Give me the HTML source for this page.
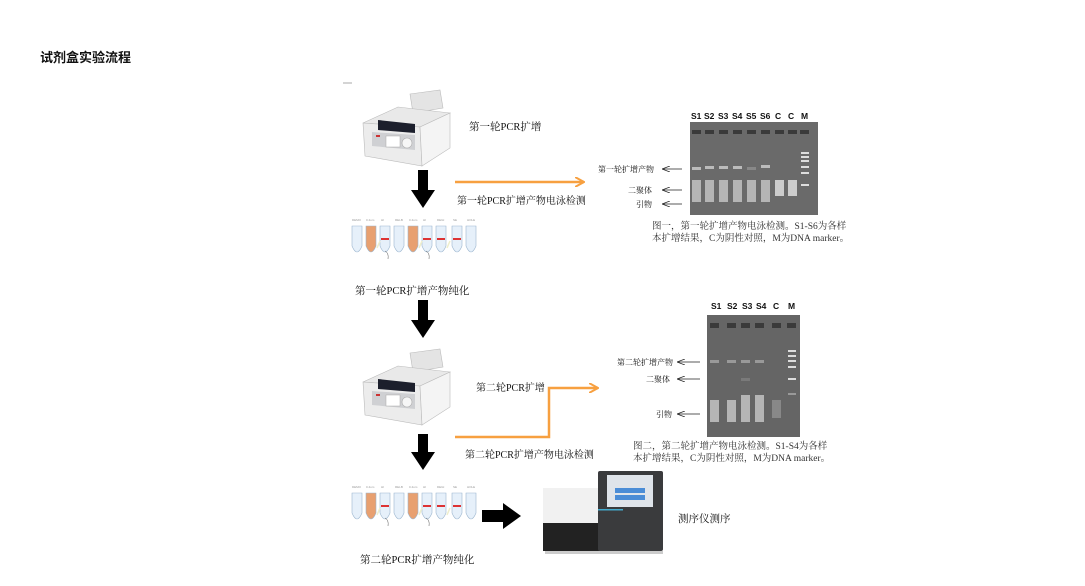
<!DOCTYPE html>
<html><head><meta charset="utf-8"><style>
html,body{margin:0;padding:0;background:#fff;width:1085px;height:586px;overflow:hidden;position:relative;font-family:"Liberation Sans","Noto Sans CJK SC",sans-serif;}
.t{position:absolute;white-space:nowrap;color:#111;}
.s{font-family:"Liberation Serif","Noto Serif CJK SC",serif;}
.g{position:absolute;font-size:8.5px;font-weight:bold;color:#111;}
</style></head><body>
<div class="t" style="left:40px;top:47px;font-size:13px;font-weight:bold;">试剂盒实验流程</div>
<svg width="1085" height="586" style="position:absolute;left:0;top:0">
<defs>
<g id="pcr">
<polygon points="50,8 80,4 83,22 53,27" fill="#e4e4e4" stroke="#bbb" stroke-width="0.6"/>
<polygon points="3,37 38,21 90,27 60,41" fill="#e9e9e9" stroke="#bbb" stroke-width="0.6"/>
<polygon points="3,37 60,41 62,80 5,70" fill="#ececec" stroke="#bbb" stroke-width="0.6"/>
<polygon points="60,41 90,27 90,62 62,80" fill="#f4f4f4" stroke="#bbb" stroke-width="0.6"/>
<polygon points="18,34 55,38 55,47 18,44" fill="#1c1f2c"/>
<polygon points="12,46 55,49 55,64 12,60" fill="#cfd0d3"/>
<rect x="26" y="50" width="14" height="11" fill="#fff" stroke="#aaa" stroke-width="0.5"/>
<circle cx="47" cy="57" r="5" fill="#f6f6f6" stroke="#aaa" stroke-width="0.6"/>
<rect x="16" y="49" width="4" height="2" fill="#c33"/>
</g>
<g id="tubes">
<g fill="#e6f0fa" stroke="#9cb6cf" stroke-width="0.6">
<path d="M5,13 h10 v20 q-5,12 -10,0z"/><path d="M19,13 h10 v20 q-5,12 -10,0z" fill="#e8a070"/>
<path d="M33,13 h10 v20 q-5,12 -10,0z"/><path d="M47,13 h10 v20 q-5,12 -10,0z"/>
<path d="M61,13 h10 v20 q-5,12 -10,0z" fill="#e8a070"/><path d="M75,13 h10 v20 q-5,12 -10,0z"/>
<path d="M89,13 h10 v20 q-5,12 -10,0z"/><path d="M105,13 h10 v20 q-5,12 -10,0z"/>
<path d="M119,13 h10 v20 q-5,12 -10,0z"/>
</g>
<g fill="#d33"><rect x="34" y="25" width="8" height="2"/><rect x="76" y="25" width="8" height="2"/><rect x="90" y="25" width="8" height="2"/><rect x="106" y="25" width="8" height="2"/></g>
<g stroke="#eec" stroke-width="1.5"><line x1="30" y1="35" x2="33" y2="28"/><line x1="72" y1="35" x2="75" y2="28"/><line x1="100" y1="35" x2="103" y2="28"/></g>
<g fill="#999" font-size="3"><text x="5" y="8">DEMO</text><text x="19" y="8">0.4um</text><text x="34" y="8">HI</text><text x="48" y="8">RELB</text><text x="62" y="8">0.4um</text><text x="76" y="8">HI</text><text x="90" y="8">DEGI</text><text x="106" y="8">SE</text><text x="120" y="8">HOLE</text></g>
<path d="M38,38 q4,2 3,8 M79,38 q4,2 3,8" stroke="#555" stroke-width="0.5" fill="none"/>
</g>
<marker id="oa" markerWidth="10" markerHeight="10" refX="9" refY="5" orient="auto" markerUnits="userSpaceOnUse"><path d="M0,0 L9,5 L0,10" fill="none" stroke="#f7a040" stroke-width="2"/></marker>
<marker id="ka" markerWidth="8" markerHeight="6" refX="0" refY="3" orient="auto" markerUnits="userSpaceOnUse"><path d="M8,0 L0,3 L8,6" fill="none" stroke="#222" stroke-width="0.8"/></marker>
</defs>
<line x1="343" y1="83" x2="352" y2="83" stroke="#aaa"/>
<use href="#pcr" x="360" y="86"/>
<use href="#pcr" x="360" y="345"/>
<g fill="#000">
<polygon points="418,170 428,170 428,190 435,190 423,208 411,190 418,190"/>
<polygon points="418,300 428,300 428,320 435,320 423,338 411,320 418,320"/>
<polygon points="418,434 428,434 428,452 435,452 423,470 411,452 418,452"/>
<polygon points="482,510 503,510 503,503 521,516 503,529 503,522 482,522"/>
</g>
<line x1="455" y1="182" x2="584" y2="182" stroke="#f7a040" stroke-width="2.5" marker-end="url(#oa)"/>
<polyline points="455,437 549,437 549,388 598,388" fill="none" stroke="#f7a040" stroke-width="2.5" marker-end="url(#oa)"/>
<use href="#tubes" x="347" y="213"/>
<use href="#tubes" x="347" y="480"/>
<!-- gel 1 -->
<rect x="690" y="122" width="128" height="93" fill="#6a6a6a"/>
<g fill="#3a3a3a"><rect x="692" y="130" width="9" height="4"/><rect x="705" y="130" width="9" height="4"/><rect x="719" y="130" width="9" height="4"/><rect x="733" y="130" width="9" height="4"/><rect x="747" y="130" width="9" height="4"/><rect x="761" y="130" width="9" height="4"/><rect x="775" y="130" width="9" height="4"/><rect x="788" y="130" width="9" height="4"/><rect x="800" y="130" width="9" height="4"/></g>
<g fill="#bbb"><rect x="692" y="167" width="9" height="3"/><rect x="705" y="166" width="9" height="3"/><rect x="719" y="166" width="9" height="3"/><rect x="733" y="166" width="9" height="3"/><rect x="747" y="167" width="9" height="3" fill="#888"/><rect x="761" y="165" width="9" height="3"/></g>
<g fill="#b5b5b5"><rect x="692" y="180" width="9" height="22"/><rect x="705" y="180" width="9" height="22"/><rect x="719" y="180" width="9" height="22"/><rect x="733" y="180" width="9" height="22"/><rect x="747" y="180" width="9" height="22"/><rect x="761" y="180" width="9" height="22"/><rect x="775" y="180" width="9" height="16" fill="#ccc"/><rect x="788" y="180" width="9" height="16" fill="#ccc"/></g>
<g fill="#ddd"><rect x="801" y="152" width="8" height="2"/><rect x="801" y="156" width="8" height="2"/><rect x="801" y="160" width="8" height="2"/><rect x="801" y="166" width="8" height="2"/><rect x="801" y="172" width="8" height="2"/><rect x="801" y="184" width="8" height="2"/></g>
<g stroke="#222" stroke-width="0.8"><line x1="662" y1="169" x2="682" y2="169" marker-start="url(#ka)"/><line x1="662" y1="190" x2="682" y2="190" marker-start="url(#ka)"/><line x1="662" y1="204" x2="682" y2="204" marker-start="url(#ka)"/></g>
<!-- gel 2 -->
<rect x="707" y="315" width="93" height="122" fill="#656565"/>
<g fill="#3a3a3a"><rect x="710" y="323" width="9" height="5"/><rect x="727" y="323" width="9" height="5"/><rect x="741" y="323" width="9" height="5"/><rect x="755" y="323" width="9" height="5"/><rect x="772" y="323" width="9" height="5"/><rect x="787" y="323" width="9" height="5"/></g>
<g fill="#999"><rect x="710" y="360" width="9" height="3"/><rect x="727" y="360" width="9" height="3"/><rect x="741" y="360" width="9" height="3"/><rect x="755" y="360" width="9" height="3"/><rect x="741" y="378" width="9" height="3" fill="#7a7a7a"/></g>
<g fill="#b5b5b5"><rect x="710" y="400" width="9" height="22"/><rect x="727" y="400" width="9" height="22"/><rect x="741" y="395" width="9" height="27"/><rect x="755" y="395" width="9" height="27"/><rect x="772" y="400" width="9" height="18" fill="#888"/></g>
<g fill="#ddd"><rect x="788" y="350" width="8" height="2"/><rect x="788" y="355" width="8" height="2"/><rect x="788" y="360" width="8" height="2"/><rect x="788" y="366" width="8" height="2"/><rect x="788" y="378" width="8" height="2"/><rect x="788" y="393" width="8" height="2" fill="#999"/></g>
<g stroke="#222" stroke-width="0.8"><line x1="677" y1="362" x2="700" y2="362" marker-start="url(#ka)"/><line x1="677" y1="379" x2="700" y2="379" marker-start="url(#ka)"/><line x1="677" y1="414" x2="700" y2="414" marker-start="url(#ka)"/></g>
<!-- sequencer -->
<rect x="543" y="488" width="60" height="63" fill="#f1f1f1"/>
<rect x="543" y="523" width="57" height="28" fill="#222"/>
<rect x="598" y="471" width="65" height="80" rx="2" fill="#3a3b3d"/>
<rect x="607" y="475" width="46" height="32" fill="#dfe4ea"/>
<rect x="615" y="488" width="30" height="5" fill="#4a8cd6"/><rect x="615" y="495" width="30" height="5" fill="#4a8cd6"/>
<rect x="598" y="509" width="25" height="1.5" fill="#4ac"/>
<rect x="545" y="551" width="118" height="3" fill="#ccc"/>
</svg>
<div class="t s" style="left:469px;top:119px;font-size:10.5px;">第一轮PCR扩增</div>
<div class="t s" style="left:457px;top:192px;font-size:10px;">第一轮PCR扩增产物电泳检测</div>
<div class="t s" style="left:355px;top:283px;font-size:10.5px;">第一轮PCR扩增产物纯化</div>
<div class="t s" style="left:476px;top:379px;font-size:10px;">第二轮PCR扩增</div>
<div class="t s" style="left:465px;top:446px;font-size:10px;">第二轮PCR扩增产物电泳检测</div>
<div class="t s" style="left:360px;top:552px;font-size:10.5px;">第二轮PCR扩增产物纯化</div>
<div class="t s" style="left:678px;top:511px;font-size:10.5px;">测序仪测序</div>
<span class="g" style="left:691px;top:111px">S1</span><span class="g" style="left:704px;top:111px">S2</span><span class="g" style="left:718px;top:111px">S3</span><span class="g" style="left:732px;top:111px">S4</span><span class="g" style="left:746px;top:111px">S5</span><span class="g" style="left:760px;top:111px">S6</span><span class="g" style="left:775px;top:111px">C</span><span class="g" style="left:788px;top:111px">C</span><span class="g" style="left:801px;top:111px">M</span>
<div class="t s" style="left:598px;top:164px;font-size:8px;">第一轮扩增产物</div>
<div class="t s" style="left:628px;top:185px;font-size:8px;">二聚体</div>
<div class="t s" style="left:636px;top:199px;font-size:8px;">引物</div>
<div class="t s" style="left:652px;top:221px;font-size:9.5px;color:#333;line-height:12px;">图一，第一轮扩增产物电泳检测。S1-S6为各样<br>本扩增结果，C为阴性对照，M为DNA marker。</div>
<span class="g" style="left:711px;top:301px">S1</span><span class="g" style="left:727px;top:301px">S2</span><span class="g" style="left:742px;top:301px">S3</span><span class="g" style="left:756px;top:301px">S4</span><span class="g" style="left:773px;top:301px">C</span><span class="g" style="left:788px;top:301px">M</span>
<div class="t s" style="left:617px;top:357px;font-size:8px;">第二轮扩增产物</div>
<div class="t s" style="left:646px;top:374px;font-size:8px;">二聚体</div>
<div class="t s" style="left:656px;top:409px;font-size:8px;">引物</div>
<div class="t s" style="left:633px;top:441px;font-size:9.5px;color:#333;line-height:12px;">图二，第二轮扩增产物电泳检测。S1-S4为各样<br>本扩增结果，C为阴性对照，M为DNA marker。</div>
</body></html>
